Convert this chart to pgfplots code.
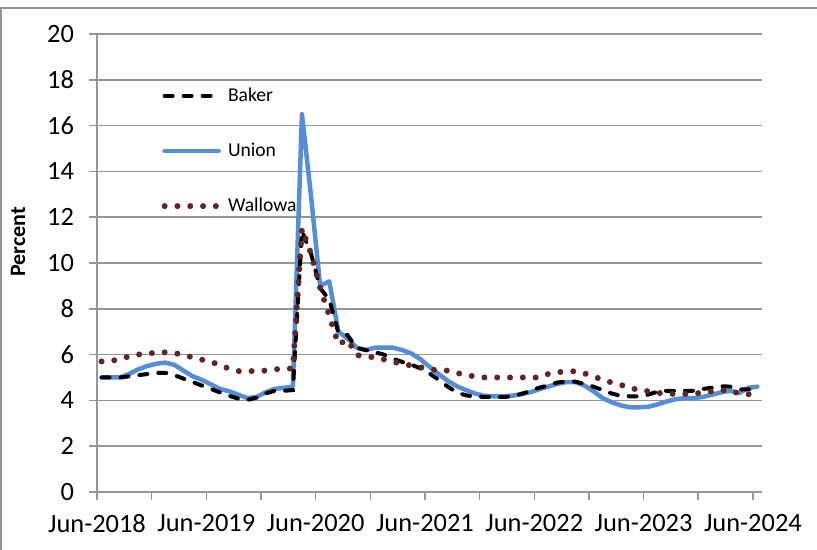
\documentclass[border=0pt]{standalone}
\usepackage{pgfplots}
\pgfplotsset{compat=1.18}
\usepackage{pgfplotstable}
\usepackage{fontspec}
\setmainfont{Carlito}
\definecolor{unionblue}{HTML}{558ED5}
\definecolor{wallred}{HTML}{632523}
\definecolor{gridgray}{HTML}{969696}

\pgfplotstableread{
x b u w
0.5 5.0 5.0 5.7
1.5 5.0 5.0 5.72
2.5 5.0 5.0 5.8
3.5 5.05 5.15 5.92
4.5 5.1 5.35 6.0
5.5 5.15 5.5 6.05
6.5 5.2 5.6 6.08
7.5 5.2 5.65 6.1
8.5 5.1 5.55 6.07
9.5 4.95 5.3 5.98
10.5 4.8 5.05 5.88
11.5 4.65 4.9 5.78
12.5 4.5 4.7 5.68
13.5 4.35 4.5 5.55
14.5 4.2 4.4 5.38
15.5 4.08 4.25 5.28
16.5 4.02 4.1 5.28
17.5 4.12 4.15 5.28
18.5 4.3 4.35 5.3
19.5 4.42 4.5 5.36
20.5 4.42 4.55 5.37
21.5 4.45 4.6 5.4
22.5 11.4 16.5 11.5
23.5 10.4 12.9 10.4
24.5 8.9 9.0 8.9
25.5 8.4 9.2 7.7
26.5 6.95 7.0 6.45
27.5 6.85 6.7 6.65
28.5 6.3 6.3 5.98
29.5 6.2 6.2 5.91
30.5 6.1 6.3 5.88
31.5 6.0 6.3 5.79
32.5 5.82 6.3 5.68
33.5 5.68 6.2 5.6
34.5 5.56 6.05 5.52
35.5 5.4 5.8 5.45
36.5 5.18 5.47 5.35
37.5 4.9 5.15 5.32
38.5 4.6 4.85 5.3
39.5 4.35 4.62 5.2
40.5 4.22 4.45 5.1
41.5 4.17 4.3 5.05
42.5 4.15 4.2 5.0
43.5 4.15 4.18 5.0
44.5 4.15 4.18 5.0
45.5 4.17 4.2 5.0
46.5 4.27 4.27 5.0
47.5 4.4 4.35 5.0
48.5 4.55 4.48 5.0
49.5 4.65 4.6 5.15
50.5 4.78 4.72 5.22
51.5 4.82 4.8 5.27
52.5 4.82 4.8 5.27
53.5 4.72 4.65 5.18
54.5 4.6 4.4 5.05
55.5 4.45 4.1 4.9
56.5 4.3 3.92 4.78
57.5 4.2 3.78 4.68
58.5 4.18 3.7 4.55
59.5 4.18 3.7 4.45
60.5 4.25 3.72 4.4
61.5 4.38 3.82 4.33
62.5 4.42 3.95 4.29
63.5 4.42 4.05 4.28
64.5 4.42 4.1 4.28
65.5 4.42 4.1 4.3
66.5 4.5 4.15 4.33
67.5 4.55 4.25 4.4
68.5 4.62 4.35 4.45
69.5 4.6 4.42 4.42
70.5 4.48 4.32 4.3
71.5 4.48 4.55 4.27
72.5 4.5 4.6 4.25
}\data

\pgfplotsset{
  bakerstyle/.style={black, line width=2pt, line cap=round, dash pattern=on 4pt off 5.5pt},
  unionstyle/.style={unionblue, line width=2.25pt, line cap=round, line join=round},
  wallstyle/.style={wallred, line width=3pt, line cap=round, dash pattern=on 0pt off 6.4pt},
}

\begin{document}
\begin{tikzpicture}
\begin{axis}[
  name=ax, at={(0,0)}, anchor=south west,
  scale only axis, width=332.5pt, height=229pt,
  xmin=0, xmax=73, ymin=0, ymax=20,
  axis x line*=bottom, axis y line*=left,
  axis line style={gridgray, line width=0.75pt},
  xtick={0,6,...,72},
  xticklabels={Jun-2018,,Jun-2019,,Jun-2020,,Jun-2021,,Jun-2022,,Jun-2023,,Jun-2024},
  ytick={0,2,...,20},
  ymajorgrids, grid style={gridgray, line width=0.75pt},
  tick align=outside, major tick length=4pt,
  tick style={gridgray, line width=0.75pt},
  tick label style={font=\fontsize{13.2}{15}\selectfont},
  xticklabel style={yshift=-3.5pt},
  yticklabel style={xshift=-4pt},
  /pgf/number format/assume math mode=true,
  ylabel={Percent},
  every axis y label/.style={at={(axis description cs:-0.1188,0.546)}, rotate=90, anchor=center, font=\bfseries\fontsize{11}{13}\selectfont},
  legend style={draw=none, fill=none, at={(axis description cs:0.0966,0.884)}, anchor=north west,
    inner sep=0pt, row sep=19.3pt, column sep=3.2pt, font=\fontsize{9.8}{11}\selectfont,
    cells={anchor=west}, nodes={inner sep=0pt}},
  legend image code/.code={\draw[#1] (0pt,0pt) -- (27pt,0pt);},
]
\addlegendimage{bakerstyle}\addlegendentry{Baker}
\addlegendimage{unionstyle}\addlegendentry{Union}
\addplot[unionstyle, forget plot] table[x=x, y=u]{\data};
\addplot[bakerstyle, forget plot] table[x=x, y=b]{\data};
\addplot[wallstyle] table[x=x, y=w]{\data};
\addlegendentry{Wallowa}
\end{axis}
\draw[gridgray, line width=0.75pt] ([xshift=-48.1pt, yshift=-29pt]ax.south west) |- ([xshift=27.5pt, yshift=13pt]ax.north east);
\pgfresetboundingbox
\path[use as bounding box] ([xshift=-48.5pt, yshift=-29pt]ax.south west) rectangle ([xshift=27.5pt, yshift=17pt]ax.north east);
\end{tikzpicture}
\end{document}
